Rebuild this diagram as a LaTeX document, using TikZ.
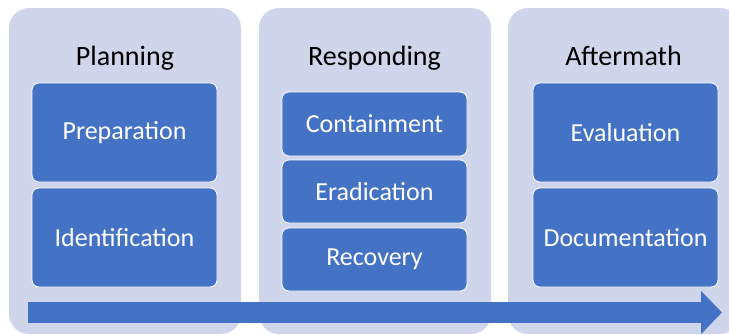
\documentclass[tikz,border=0pt]{standalone}
\usepackage{fontspec}
\setmainfont{Carlito}
\usepackage{xcolor}
\usetikzlibrary{arrows.meta, positioning}
\definecolor{phaseblue}{HTML}{4472C4}
\definecolor{panellilac}{HTML}{CFD5EA}

\begin{document}
\begin{tikzpicture}[x=1pt, y=-1pt,
  panel/.style={rectangle, fill=panellilac, rounded corners=20pt, minimum width=232pt, minimum height=326pt, inner sep=0pt},
  phasetitle/.style={anchor=base, font=\fontsize{28}{32}\selectfont, text=black},
  tallbox/.style={rectangle, draw=white, line width=0.8pt, fill=phaseblue, rounded corners=7pt, minimum width=185pt, minimum height=99pt, text=white, font=\fontsize{26}{30}\selectfont},
  shortbox/.style={tallbox, minimum height=63pt},
  timeline/.style={line width=21pt, draw=phaseblue, -{Triangle[length=21pt, width=42pt]}}
]
  \clip (0,0) rectangle (729,335);

  \node[panel] (plan) at (125, 171) {};
  \node[panel] (resp) at (375, 171) {};
  \node[panel] (after) at (624, 171) {};

  \node[phasetitle] (plantitle) at (125, 65) {Planning};
  \node[phasetitle] (resptitle) at (374.5, 65) {Responding};
  \node[phasetitle] (aftertitle) at (623.5, 65) {Aftermath};

  \node[tallbox] (prep) at (124.5, 132.5) {Preparation};
  \node[tallbox] (ident) at (124.5, 237.5) {Identification};

  \node[shortbox, minimum height=64pt] (contain) at (374.5, 124) {Containment};
  \node[shortbox] (eradic) at (374.5, 191.5) {Eradication};
  \node[shortbox] (recover) at (374.5, 259.5) {Recovery};

  \node[tallbox] (evaluate) at (625.5, 132.5) {Evaluation};
  \node[tallbox] (document) at (625.5, 237.5) {Documentation};

  \coordinate (tlstart) at (28, 312.5);
  \coordinate (tlend) at (722, 312.5);
  \draw[timeline] (tlstart) -- (tlend);
\end{tikzpicture}
\end{document}
